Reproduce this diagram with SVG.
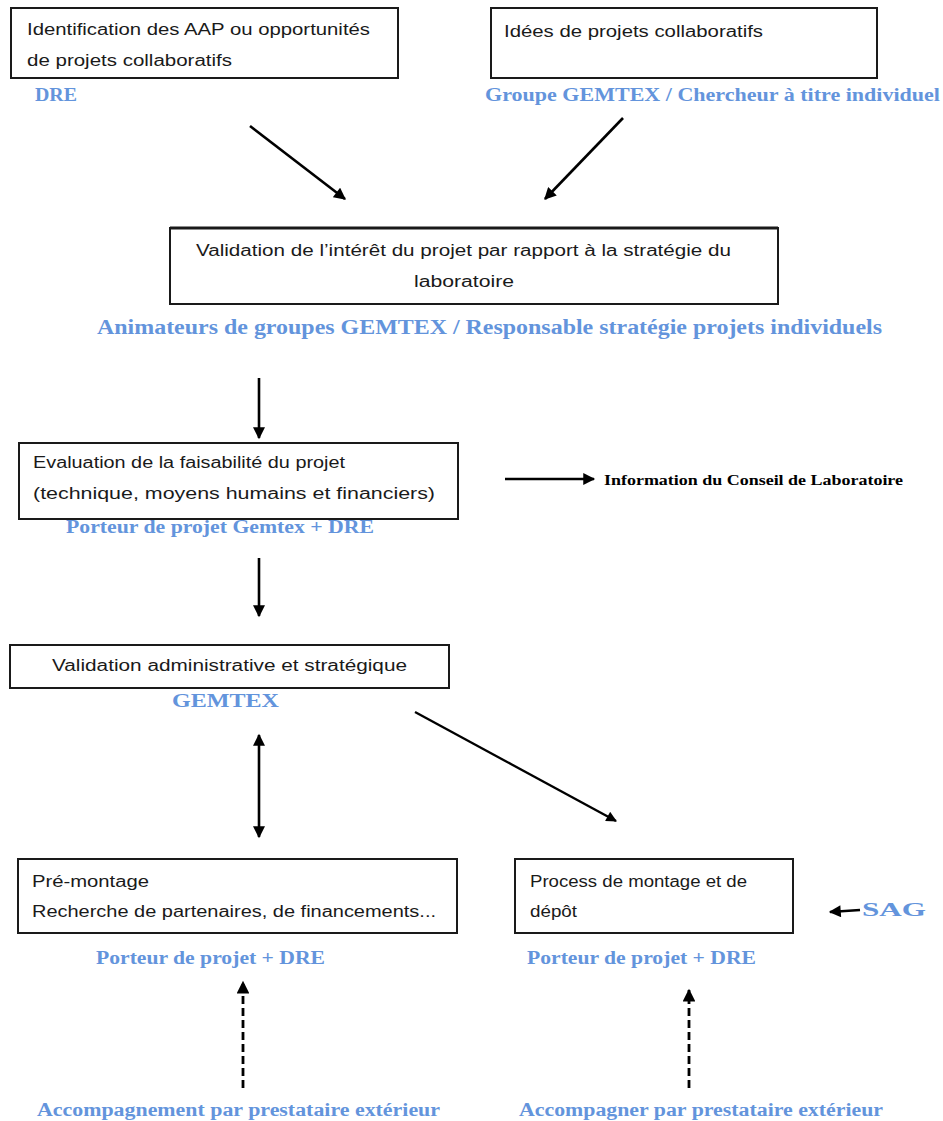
<svg xmlns="http://www.w3.org/2000/svg" width="943" height="1121" viewBox="0 0 943 1121">
<style>
.box{fill:#fff;stroke:#1a1a1a;stroke-width:2}
.t{font-family:"Liberation Sans",Arial,sans-serif;font-size:16px;fill:#1a1a1a}
.b{font-family:"Liberation Serif","Times New Roman",serif;font-weight:bold;font-size:18px;fill:#6394dc}
.k{font-family:"Liberation Serif","Times New Roman",serif;font-weight:bold;font-size:14px;fill:#000}
.c{stroke:#000;stroke-width:2.6;fill:none}
.d{stroke:#000;stroke-width:2.8;fill:none;stroke-dasharray:8,4}
</style>
<defs>
<marker id="ah" viewBox="0 0 10 10" refX="9" refY="5" markerWidth="5" markerHeight="4.6" orient="auto-start-reverse" markerUnits="strokeWidth">
<path d="M0,0 L10,5 L0,10 z" fill="#000"/>
</marker>
</defs>
<rect width="943" height="1121" fill="#fff"/>

<g id="n1">
<rect class="box" x="11" y="8" width="387" height="70"/>
<text class="t" x="27" y="35" textLength="343" lengthAdjust="spacingAndGlyphs">Identification des AAP ou opportunités</text>
<text class="t" x="27" y="66" textLength="205" lengthAdjust="spacingAndGlyphs">de projets collaboratifs</text>
<text class="b" x="35" y="101" textLength="42" lengthAdjust="spacingAndGlyphs">DRE</text>
</g>

<g id="n2">
<rect class="box" x="491" y="8" width="386" height="70"/>
<text class="t" x="504" y="37" textLength="259" lengthAdjust="spacingAndGlyphs">Idées de projets collaboratifs</text>
<text class="b" x="485" y="101" textLength="455" lengthAdjust="spacingAndGlyphs">Groupe GEMTEX / Chercheur à titre individuel</text>
</g>

<g id="n3">
<rect class="box" x="170" y="228" width="608" height="76"/>
<line x1="170" y1="228" x2="778" y2="228" stroke="#1a1a1a" stroke-width="3"/>
<text class="t" x="196" y="256" textLength="535" lengthAdjust="spacingAndGlyphs">Validation de l’intérêt du projet par rapport à la stratégie du</text>
<text class="t" x="414" y="287" textLength="100" lengthAdjust="spacingAndGlyphs">laboratoire</text>
<text class="b" x="97" y="334" textLength="785" lengthAdjust="spacingAndGlyphs" style="font-size:20px">Animateurs de groupes GEMTEX / Responsable stratégie projets individuels</text>
</g>

<g id="n4">
<rect class="box" x="19" y="443" width="439" height="76"/>
<text class="t" x="33" y="468" textLength="312" lengthAdjust="spacingAndGlyphs">Evaluation de la faisabilité du projet</text>
<text class="t" x="33" y="499" textLength="402" lengthAdjust="spacingAndGlyphs">(technique, moyens humains et financiers)</text>
<text class="b" x="66" y="533" textLength="308" lengthAdjust="spacingAndGlyphs">Porteur de projet Gemtex + DRE</text>
</g>

<g id="n4b">
<text class="k" x="604" y="485" textLength="299" lengthAdjust="spacingAndGlyphs">Information du Conseil de Laboratoire</text>
</g>

<g id="n5">
<rect class="box" x="10" y="645" width="439" height="43"/>
<text class="t" x="52" y="671" textLength="355" lengthAdjust="spacingAndGlyphs">Validation administrative et stratégique</text>
<text class="b" x="172" y="707" textLength="107" lengthAdjust="spacingAndGlyphs">GEMTEX</text>
</g>

<g id="n6">
<rect class="box" x="18" y="859" width="439" height="74"/>
<text class="t" x="32" y="887" textLength="117" lengthAdjust="spacingAndGlyphs">Pré-montage</text>
<text class="t" x="32" y="917" textLength="404" lengthAdjust="spacingAndGlyphs">Recherche de partenaires, de financements...</text>
<text class="b" x="96" y="964" textLength="229" lengthAdjust="spacingAndGlyphs">Porteur de projet + DRE</text>
</g>

<g id="n7">
<rect class="box" x="515" y="859" width="278" height="74"/>
<text class="t" x="530" y="887" textLength="217" lengthAdjust="spacingAndGlyphs">Process de montage et de</text>
<text class="t" x="530" y="917" textLength="47" lengthAdjust="spacingAndGlyphs">dépôt</text>
<text class="b" x="527" y="964" textLength="229" lengthAdjust="spacingAndGlyphs">Porteur de projet + DRE</text>
</g>

<g id="n8">
<text class="b" x="862" y="916" textLength="64" lengthAdjust="spacingAndGlyphs">SAG</text>
</g>

<g id="n9">
<text class="b" x="37" y="1116" textLength="403" lengthAdjust="spacingAndGlyphs">Accompagnement par prestataire extérieur</text>
</g>

<g id="n10">
<text class="b" x="519" y="1116" textLength="364" lengthAdjust="spacingAndGlyphs">Accompagner par prestataire extérieur</text>
</g>

<g id="connectors">
<line class="c" x1="250" y1="126" x2="345" y2="199" marker-end="url(#ah)"/>
<line class="c" x1="623" y1="118" x2="545" y2="199" marker-end="url(#ah)"/>
<line class="c" x1="259" y1="378" x2="259" y2="438" marker-end="url(#ah)"/>
<line class="c" x1="505" y1="479" x2="594" y2="479" marker-end="url(#ah)"/>
<line class="c" x1="259" y1="558" x2="259" y2="616" marker-end="url(#ah)"/>
<line class="c" x1="259" y1="735" x2="259" y2="837" marker-start="url(#ah)" marker-end="url(#ah)"/>
<line class="c" x1="415" y1="712" x2="616" y2="821" marker-end="url(#ah)" style="stroke-width:2.3"/>
<line class="c" x1="860" y1="910" x2="830" y2="912" marker-end="url(#ah)"/>
<line class="d" x1="243" y1="1088" x2="243" y2="982" marker-end="url(#ah)"/>
<line class="d" x1="689" y1="1088" x2="689" y2="990" marker-end="url(#ah)"/>
</g>
</svg>
